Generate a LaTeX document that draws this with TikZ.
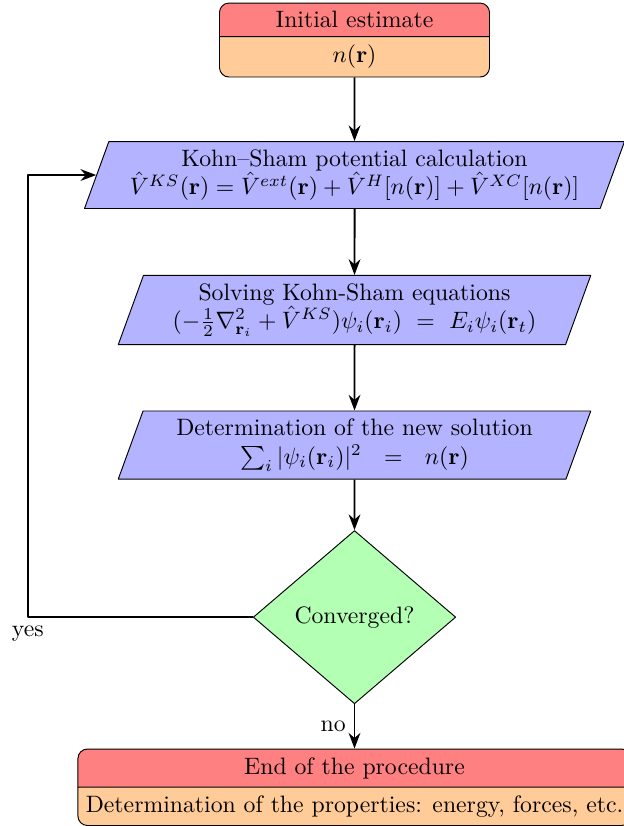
\documentclass[tikz,border=0pt]{standalone}
\usepackage{amsmath,amssymb}
\usepackage{xcolor}
\usepackage{tikz}
\usetikzlibrary{arrows.meta,shapes.geometric,shapes.multipart}
\definecolor{headred}{HTML}{FF8080}
\definecolor{bodyorange}{HTML}{FFCC99}
\definecolor{calcblue}{HTML}{B3B3FF}
\definecolor{testgreen}{HTML}{B3FFB3}
\tikzset{flow/.style={line join=round,>=Stealth},
  splitbox/.style={draw,rounded corners,rectangle split,rectangle split parts=2,
    rectangle split part fill={headred,bodyorange},minimum width=4cm},
  calcbox/.style={draw,fill=calcblue,trapezium,trapezium left angle=70,
    trapezium right angle=110,trapezium stretches body,align=center,minimum width=7cm},
  decide/.style={draw,fill=testgreen,diamond,minimum width=3cm,minimum height=2.55cm},
  link/.style={thick,->}}

\begin{document}
\begin{tikzpicture}[flow]
  \useasboundingbox(-5.252,0.593)rectangle(3.978,-11.644);
  \node[splitbox](init)at(0,0){Initial estimate\nodepart{two}$n(\mathbf{r})$};
  \node[calcbox,minimum width=8cm](ks)at(0,-2){Kohn--Sham potential calculation\\
    $\hat{V}^{KS}(\mathbf{r})=\hat{V}^{ext}(\mathbf{r})+\hat{V}^{H}[n(\mathbf{r})]+\hat{V}^{XC}[n(\mathbf{r})]$};
  \node[calcbox](solve)at(0,-4){Solving Kohn-Sham equations\\
    $(-\frac{1}{2}\nabla^2_{\mathbf{r}_i}+\hat{V}^{KS})\psi_i(\mathbf{r}_i)\ =\ E_i\psi_i(\mathbf{r}_t)$};
  \node[calcbox](dens)at(0,-6){Determination of the new solution\\
    $\sum_i|\psi_i(\mathbf{r}_i)|^2\ \ =\ \ n(\mathbf{r})$};
  \node[decide](conv)at(0,-8.55){Converged?};
  \node[splitbox](done)at(0,-11.07){End of the procedure\nodepart{two}Determination of the properties: energy, forces, etc.};
  % main chain
  \draw[link](init)--(ks);
  \draw[link](ks)--(solve);
  \draw[link](solve)--(dens);
  \draw[link](dens)--(conv);
  \draw[link](conv)--node[left]{no}(done);
  % back loop
  \draw[link](conv.west)--++(-3.333,0)node[below]{yes}|-(ks.west);
\end{tikzpicture}
\end{document}
